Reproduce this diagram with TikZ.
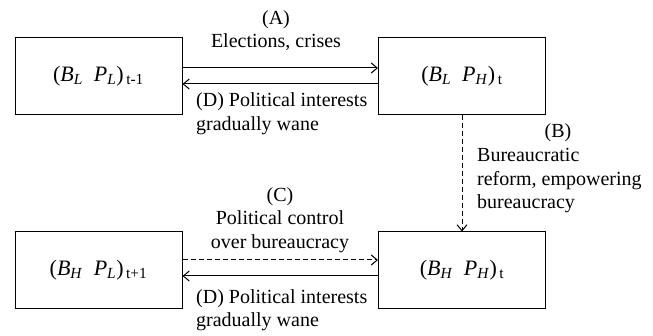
\documentclass[tikz,border=0pt]{standalone}
\usepackage{fontspec}
\setmainfont{Liberation Serif}
\usetikzlibrary{arrows.meta}
\newcommand{\lbl}{\fontsize{20}{23.5}\selectfont}
\newcommand{\st}[3]{(\textit{B}\textsubscript{\textit{#1}}\ \ \textit{P}\textsubscript{\textit{#2}})\textsubscript{\,#3}}
\begin{document}
\begin{tikzpicture}[x=1pt,y=-1pt,
  statebox/.style={draw,line width=1pt,minimum width=167pt,minimum height=77pt,inner sep=0pt,font=\fontsize{22}{24}\selectfont},
  lab/.style={inner sep=0pt,font=\lbl},
  conn/.style={line width=1pt,-{Straight Barb[length=6pt,width=10pt]}},
  dsh/.style={conn,dash pattern=on 5pt off 3pt}]
\useasboundingbox (0,0) rectangle (653,336);
\node[statebox] (b1) at (98.5,76) {\st{L}{L}{t-1}};
\node[statebox] (b2) at (462,76) {\st{L}{H}{t}};
\node[statebox] (b3) at (98.5,270.5) {\st{H}{L}{t+1}};
\node[statebox] (b4) at (462,270.5) {\st{H}{H}{t}};
% top arrows
\draw[conn] ([yshift=8pt]b1.east) -- ([yshift=8pt]b2.west);
\draw[conn] ([yshift=-8pt]b2.west) -- ([yshift=-8pt]b1.east);
% vertical dashed
\draw[dsh] (b2.south) -- (b4.north);
% bottom arrows
\draw[dsh] ([yshift=10.5pt]b3.east) -- ([yshift=10.5pt]b4.west);
\draw[conn] ([yshift=-5.5pt]b4.west) -- ([yshift=-5.5pt]b3.east);
% labels
\node[lab,align=center] (la) at (276,30.5) {(A)\\Elections, crises};
\node[lab,align=left,anchor=west] (ld1) at (196,113.5) {(D) Political interests\\gradually wane};
\node[lab] (lb) at (558,133) {(B)};
\node[lab,align=left,anchor=west] (lb2) at (477,181) {Bureaucratic\\reform, empowering\\bureaucracy};
\node[lab,align=center] (lc) at (280,220) {(C)\\Political control\\over bureaucracy};
\node[lab,align=left,anchor=west] (ld2) at (196,310) {(D) Political interests\\gradually wane};
\end{tikzpicture}
\end{document}
